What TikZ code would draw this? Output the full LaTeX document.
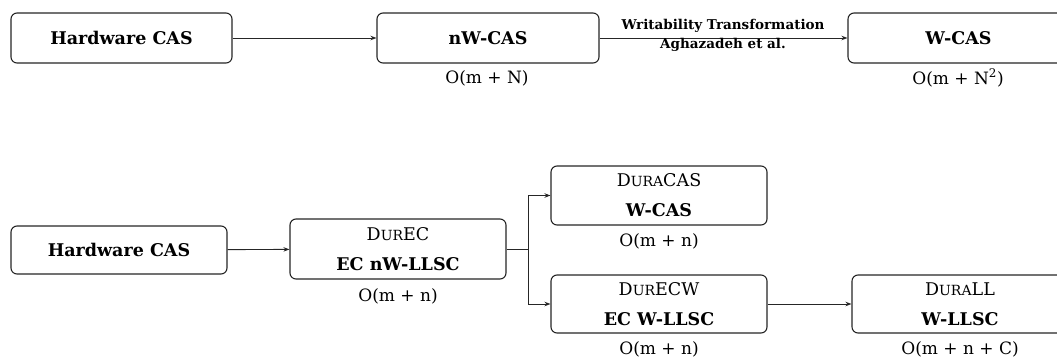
\documentclass[tikz,border=0pt]{standalone}
\usepackage{fontspec}
\setmainfont{DejaVu Serif}
\usetikzlibrary{arrows.meta}
\newcommand\fakesc[1]{{\fontsize{14}{16}\selectfont #1}}
\tikzset{
  box/.style={draw=black!85, line width=1.1pt, rounded corners=6pt, fill=white,
    align=center, inner sep=0pt, font=\fontsize{17.5}{30}\selectfont},
  cost/.style={font=\fontsize{17}{20}\selectfont, inner sep=0pt},
  lbl/.style={font=\fontsize{13.5}{16}\selectfont\bfseries, inner sep=0pt},
  conn/.style={draw=black!85, line width=0.9pt, -{Stealth[length=6pt,width=4.5pt]}},
  line/.style={draw=black!85, line width=0.9pt}
}
\begin{document}
\begin{tikzpicture}[x=1pt,y=-1pt]
\useasboundingbox (0,0) rectangle (1057,359);
% top row
\node[box, minimum width=221pt, minimum height=50pt] (hw1) at (121.5,38) {\bfseries Hardware CAS};
\node[box, minimum width=222pt, minimum height=50pt] (nw) at (488,38) {\bfseries nW-CAS};
\node[box, minimum width=221pt, minimum height=50pt] (wcas) at (958.5,38) {\bfseries W-CAS};
\node[cost] (cnw) at (487,78) {O(m + N)};
\node[cost] (cwcas) at (958,78) {O(m + N\textsuperscript{2})};
\draw[conn] (hw1) -- (nw);
\draw[conn] (nw) -- (wcas);
\node[lbl] (l1) at (723,26) {Writability Transformation};
\node[lbl] (l2) at (723,45) {Aghazadeh et al.};
% bottom row
\node[box, minimum width=216pt, minimum height=48pt] (hw2) at (119,250) {\bfseries Hardware CAS};
\node[box, minimum width=216pt, minimum height=60pt] (durec) at (398,249) {D\fakesc{UR}EC\\\bfseries EC nW-LLSC};
\node[cost] (cdurec) at (398,296) {O(m + n)};
\node[box, minimum width=216pt, minimum height=59pt] (duracas) at (659,195.5) {D\fakesc{URA}CAS\\\bfseries W-CAS};
\node[cost] (cduracas) at (659,241) {O(m + n)};
\node[box, minimum width=216pt, minimum height=58pt] (durecw) at (659,304) {D\fakesc{UR}ECW\\\bfseries EC W-LLSC};
\node[cost] (cdurecw) at (659,349) {O(m + n)};
\node[box, minimum width=216pt, minimum height=58pt] (durall) at (960,304) {D\fakesc{URA}LL\\\bfseries W-LLSC};
\node[cost] (cdurall) at (960,349) {O(m + n + C)};
\coordinate (br) at (528,249);
\draw[conn] (hw2) -- (durec);
\draw[line] (durec.east) -- (br);
\draw[conn] (br) |- (duracas.west);
\draw[conn] (br) |- (durecw.west);
\draw[conn] (durecw) -- (durall);
\end{tikzpicture}
\end{document}
